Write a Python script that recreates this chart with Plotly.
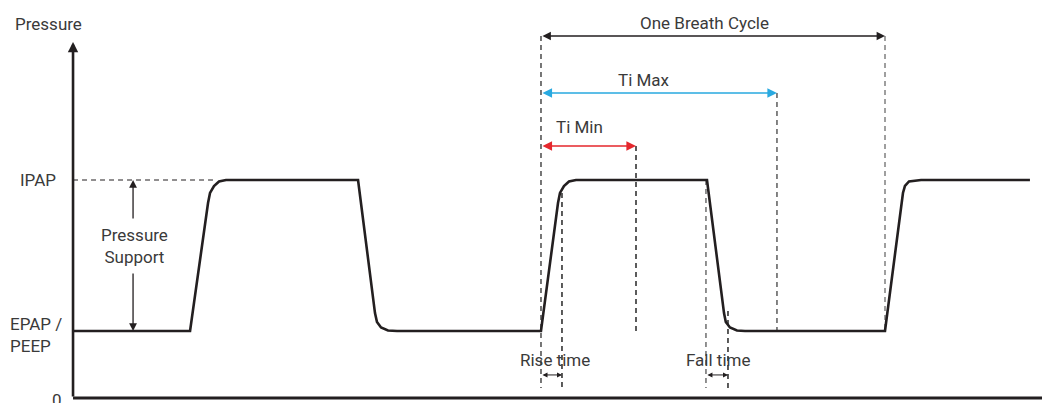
import plotly.graph_objects as go

# ---- data (time in s, pressure in cmH2O-like units) ----
EPAP = 5.0
IPAP = 16.27

wave_t = [0.0, 1.706, 1.968, 1.997, 2.055, 2.128, 2.230, 4.155, 4.402, 4.431, 4.490, 4.592, 4.723,
          6.822, 7.070, 7.099, 7.157, 7.230, 7.332, 9.242, 9.490, 9.516, 9.577, 9.679, 9.796,
          11.837, 12.099, 12.128, 12.187, 12.259, 12.362, 13.950]
wave_p = [5.00, 5.00, 14.55, 15.30, 15.82, 16.16, 16.27, 16.27, 6.34, 5.67, 5.26, 5.04, 5.00,
          5.00, 14.55, 15.30, 15.82, 16.16, 16.27, 16.27, 6.34, 5.67, 5.26, 5.04, 5.00,
          5.00, 15.30, 15.82, 16.16, 16.22, 16.27, 16.27]

breath_start = 6.822
rise_end = 7.128
ti_min_end = 8.207
fall_start = 9.227
fall_end = 9.548
ti_max_end = 10.262
breath_end = 11.837

y_cycle = 27.01
y_timax = 22.76
y_timin = 18.81
y_small = 1.72
y_dash_bottom = 0.75
y_axis_top = 26.57
x_axis_end = 14.36
ipap_dash_end = 2.04
ps_x = 0.875
ps_top_gap = 13.28
ps_bottom_gap = 9.40

labels = {
    "Pressure": (-0.357, 27.91),
    "IPAP": (-0.219, IPAP),
    "EPAP /<br>PEEP": (-0.948, 4.70),
    "0": (-0.233, -0.15),
    "Pressure<br>Support": (0.897, 11.34),
    "One Breath Cycle": (9.21, 27.99),
    "Ti Max": (8.32, 23.73),
    "Ti Min": (7.39, 20.22),
    "Rise time": (7.03, 2.84),
    "Fall time": (9.40, 2.84),
}

FONT = "Roboto, Arial, sans-serif"
TXT = "#3a3a3a"
BLK = "#231f20"
BLUE = "#29a9e0"
RED = "#e5272d"

fig = go.Figure()

# dashed guide lines
dash_specs = [
    (breath_start, y_cycle, y_dash_bottom, "#555555"),
    (rise_end, 15.30, y_dash_bottom, "#333333"),
    (ti_min_end, y_timin, EPAP, "#333333"),
    (fall_start, IPAP, y_dash_bottom, "#777777"),
    (fall_end, 6.5, y_dash_bottom, "#333333"),
    (ti_max_end, y_timax, EPAP, "#666666"),
    (breath_end, y_cycle, EPAP, "#888888"),
]
for x, y0, y1, c in dash_specs:
    fig.add_trace(go.Scatter(x=[x, x], y=[y0, y1], mode="lines",
                             line=dict(color=c, width=1.6, dash="5px,4px"),
                             hoverinfo="skip", showlegend=False))
# IPAP dashed horizontal
fig.add_trace(go.Scatter(x=[0, ipap_dash_end], y=[IPAP, IPAP], mode="lines",
                         line=dict(color=BLK, width=1.2, dash="5px,4px"),
                         hoverinfo="skip", showlegend=False))

# x axis
fig.add_trace(go.Scatter(x=[0, x_axis_end], y=[0, 0], mode="lines",
                         line=dict(color=BLK, width=3), hoverinfo="skip", showlegend=False))

# waveform
fig.add_trace(go.Scatter(x=wave_t, y=wave_p, mode="lines",
                         line=dict(color=BLK, width=2.6), hoverinfo="skip", showlegend=False))


def arrow(x, y, ax, ay, color, width=1.4, both=True, size=1.0):
    fig.add_annotation(x=x, y=y, ax=ax, ay=ay, xref="x", yref="y", axref="x", ayref="y",
                       text="", showarrow=True, arrowhead=2, startarrowhead=2,
                       arrowside="end+start" if both else "end",
                       arrowsize=size, startarrowsize=size,
                       arrowwidth=width, arrowcolor=color, standoff=0, startstandoff=0)


# y axis with arrow
arrow(0, y_axis_top, 0, 0, BLK, width=2.6, both=False, size=0.8)
# pressure support arrows
arrow(ps_x, IPAP, ps_x, ps_top_gap, BLK, width=1.3, both=False, size=1.2)
arrow(ps_x, EPAP, ps_x, ps_bottom_gap, BLK, width=1.3, both=False, size=1.2)
# timing arrows
arrow(breath_end, y_cycle, breath_start, y_cycle, BLK, width=1.4, size=1.2)
arrow(ti_max_end, y_timax, breath_start, y_timax, BLUE, width=1.6, size=1.2)
arrow(ti_min_end, y_timin, breath_start, y_timin, RED, width=1.6, size=1.2)
arrow(rise_end, y_small, breath_start, y_small, BLK, width=1.0, size=1.0)
arrow(fall_end, y_small, fall_start, y_small, BLK, width=1.0, size=1.0)

for txt, (x, y) in labels.items():
    xa = "center"
    if txt == "IPAP":
        xa = "right"
    elif txt.startswith("EPAP"):
        xa = "left"
    fig.add_annotation(x=x, y=y, xref="x", yref="y", text=txt, showarrow=False,
                       xanchor=xa, yanchor="middle", align=xa,
                       font=dict(family=FONT, size=17, color=TXT))

# ranges compensate the 8px page margin so the drawing lands where the reference has it
fig.update_layout(
    width=1050, height=403,
    margin=dict(l=0, r=0, t=0, b=0),
    paper_bgcolor="white", plot_bgcolor="white",
    xaxis=dict(range=[-0.948, 14.359], visible=False, fixedrange=True),
    yaxis=dict(range=[-0.970, 29.104], visible=False, fixedrange=True),
    showlegend=False,
)

fig.write_html("out.html")
